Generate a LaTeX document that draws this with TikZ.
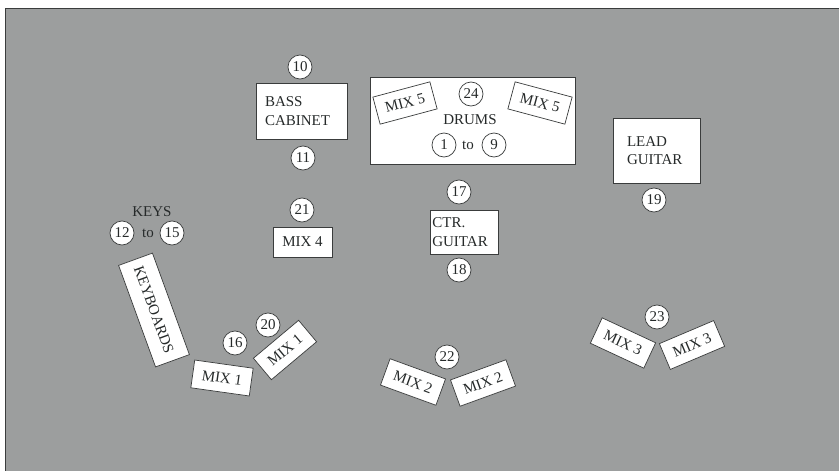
\documentclass[tikz,border=0pt]{standalone}
\usepackage{fontspec}
\setmainfont{Liberation Serif}
\usepackage{xcolor}
\usepackage{tikz}
\usetikzlibrary{positioning,calc}
\definecolor{stagebg}{HTML}{9C9E9E}
\definecolor{edge}{HTML}{3A3C3C}
\definecolor{ink}{HTML}{262A2A}

\begin{document}
\begin{tikzpicture}[
  x=0.03cm, y=-0.03cm,
  every node/.style={font=\fontsize{12.8}{16}\selectfont, text=ink},
  num/.style={
    circle, draw=edge, line width=0.6pt, fill=white,
    minimum size=0.72cm, inner sep=0pt
  },
  area/.style={
    rectangle, draw=edge, line width=0.5pt, fill=white, align=left
  },
  mixbox/.style={
    rectangle, draw=edge, line width=0.6pt, fill=white,
    minimum width=1.77cm, minimum height=0.84cm, inner sep=0pt
  },
  word/.style={inner sep=1pt},
]
\useasboundingbox (0,0) rectangle (839,471);
% stage floor
\fill[stagebg] (5,8) rectangle (839,471);
\draw[edge, line width=0.8pt] (839,8) -- (5,8) -- (5,471);

% Bass
\node[num] (n10) at (300,67) {10};
\node[area, minimum width=2.73cm, minimum height=1.68cm, text width=2.19cm,
      inner xsep=0.27cm] (bass) at (301.5,111) {BASS\\CABINET};
\node[num] (n11) at (303,158) {11};

% Drums riser with the two MIX 5 wedges
\node[area, minimum width=6.15cm, minimum height=2.61cm] (drums) at (472.5,120.5) {};
\node[mixbox, rotate=15]  (mix5a) at (405,103) {MIX 5};
\node[mixbox, rotate=-15] (mix5b) at (540,103) {MIX 5};
\node[num] (n24) at (471,94) {24};
\node[word] (drumlbl) at (470,120) {DRUMS};
\node[num] (n1) at (444,145) {1};
\node[word] (drumto) at (468,145) {to};
\node[num] (n9) at (494,145) {9};

% Lead guitar
\node[area, minimum width=2.61cm, minimum height=1.95cm, text width=1.77cm,
      inner xsep=0.42cm] (lead) at (656.5,150.5) {LEAD\\GUITAR};
\node[num] (n19) at (654,200) {19};

% Centre guitar
\node[num] (n17) at (459,192) {17};
\node[area, minimum width=2.04cm, minimum height=1.32cm, text width=1.9cm,
      inner xsep=0.07cm] (ctr) at (464,232) {CTR.\\GUITAR};
\node[num] (n18) at (459,270) {18};

% Mix 4
\node[num] (n21) at (302,210) {21};
\node[mixbox, minimum width=1.77cm, minimum height=0.9cm] (mix4) at (302.5,242) {MIX 4};

% Keys
\node[word] (keyslbl) at (152,212) {KEYS};
\node[num] (n12) at (122,233) {12};
\node[word] (keysto) at (148,233) {to};
\node[num] (n15) at (172,233) {15};
\node[mixbox, rotate=-70, minimum width=3.24cm, minimum height=1.08cm] (keyboards) at (154,310) {KEYBOARDS};

% Mix 1
\node[num] (n16) at (235,343) {16};
\node[num] (n20) at (268,325) {20};
\node[mixbox, rotate=-8] (mix1a) at (222,378) {MIX 1};
\node[mixbox, rotate=40] (mix1b) at (285,350) {MIX 1};

% Mix 2
\node[num] (n22) at (447,357) {22};
\node[mixbox, rotate=-20] (mix2a) at (413,382) {MIX 2};
\node[mixbox, rotate=20]  (mix2b) at (483,383) {MIX 2};

% Mix 3
\node[num] (n23) at (657,317) {23};
\node[mixbox, rotate=-25] (mix3a) at (623,343) {MIX 3};
\node[mixbox, rotate=23]  (mix3b) at (692,345) {MIX 3};
\end{tikzpicture}
\end{document}
